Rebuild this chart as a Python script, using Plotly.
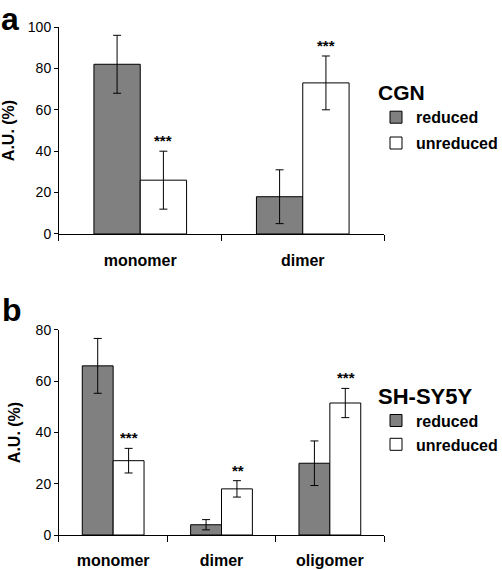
import plotly.graph_objects as go

# ---- data ----
cats_a = ["monomer", "dimer"]
red_a = [82, 18]
red_a_err = [14, 13]
unred_a = [26, 73]
unred_a_err = [14, 13]
sig_a = ["***", "***"]

cats_b = ["monomer", "dimer", "oligomer"]
red_b = [66, 4, 28]
red_b_err = [10.7, 2, 8.7]
unred_b = [29, 18, 51.5]
unred_b_err = [4.8, 3.2, 5.7]
sig_b = ["***", "**", "***"]

FONT = "Liberation Sans, Arial, sans-serif"
GRAY = "#808080"

fig = go.Figure()

def add_bars(cats, red, rerr, unred, uerr, xa, ya, legend, tag):
    fig.add_trace(go.Bar(
        x=cats, y=red, name="reduced", xaxis=xa, yaxis=ya, legend=legend,
        legendgroup=tag + "r",
        marker=dict(color=GRAY, line=dict(color="black", width=1)),
        error_y=dict(type="data", array=rerr, color="black", thickness=1, width=4)))
    fig.add_trace(go.Bar(
        x=cats, y=unred, name="unreduced", xaxis=xa, yaxis=ya, legend=legend,
        legendgroup=tag + "u",
        marker=dict(color="white", line=dict(color="black", width=1)),
        error_y=dict(type="data", array=uerr, color="black", thickness=1, width=4)))

add_bars(cats_a, red_a, red_a_err, unred_a, unred_a_err, "x", "y", "legend", "a")
add_bars(cats_b, red_b, red_b_err, unred_b, unred_b_err, "x2", "y2", "legend2", "b")

xd = [0.1175, 0.765]
axis_common = dict(showline=True, linecolor="black", linewidth=1, showgrid=False,
                   zeroline=False, ticks="outside", tickcolor="black", mirror=False,
                   automargin=False)

fig.update_layout(
    width=502, height=570,
    margin=dict(l=0, r=0, t=0, b=0, autoexpand=False),
    paper_bgcolor="white", plot_bgcolor="white",
    barmode="group", bargap=0.43, bargroupgap=0,
    font=dict(family=FONT, color="black"),
    xaxis=dict(domain=xd, anchor="y", tickson="boundaries", ticklen=6,
               tickfont=dict(size=16, family=FONT, weight="bold"),
               ticklabelstandoff=12, **axis_common),
    yaxis=dict(domain=[0.5895, 0.9526], anchor="x", range=[0, 100], dtick=20,
               ticklen=4, tickfont=dict(size=14), **axis_common,
               title=dict(text="<b>A.U. (%)</b>", font=dict(size=16), standoff=11)),
    xaxis2=dict(domain=xd, anchor="y2", tickson="boundaries", ticklen=6,
                tickfont=dict(size=16, family=FONT, weight="bold"),
                ticklabelstandoff=11, **axis_common),
    yaxis2=dict(domain=[0.0614, 0.4211], anchor="x2", range=[0, 80], dtick=20,
                ticklen=4, tickfont=dict(size=14), **axis_common,
                title=dict(text="<b>A.U. (%)</b>", font=dict(size=16), standoff=11)),
    legend=dict(x=376 / 502, y=1 - 73 / 570, xanchor="left", yanchor="top",
                title=dict(text="<b>CGN</b>", font=dict(size=21)),
                font=dict(size=16, weight="bold"), bgcolor="rgba(0,0,0,0)",
                tracegroupgap=2),
    legend2=dict(x=376 / 502, y=1 - 375 / 570, xanchor="left", yanchor="top",
                 title=dict(text="<b>SH-SY5Y</b>", font=dict(size=22)),
                 font=dict(size=16, weight="bold"), bgcolor="rgba(0,0,0,0)",
                 tracegroupgap=0),
)

annots = []
for c, v, e, s in zip(cats_a, unred_a, unred_a_err, sig_a):
    annots.append(dict(x=c, y=v + e, xref="x", yref="y", text="<b>%s</b>" % s,
                       showarrow=False, xshift=23, yanchor="bottom", yshift=0,
                       font=dict(size=15)))
for c, v, e, s in zip(cats_b, unred_b, unred_b_err, sig_b):
    annots.append(dict(x=c, y=v + e, xref="x2", yref="y2", text="<b>%s</b>" % s,
                       showarrow=False, xshift=16, yanchor="bottom", yshift=0,
                       font=dict(size=15)))
annots.append(dict(x=0, y=1, xref="paper", yref="paper", text="<b>a</b>",
                   showarrow=False, xanchor="left", yanchor="top",
                   borderpad=0, font=dict(size=32)))
annots.append(dict(x=0, y=1 - 290 / 570, xref="paper", yref="paper", text="<b>b</b>",
                   showarrow=False, xanchor="left", yanchor="top", font=dict(size=32)))
fig.update_layout(annotations=annots)

fig.write_html(
    "out.html",
    config={"displayModeBar": False},
    post_script="document.body.style.margin='0';document.body.style.overflow='hidden';"
                "document.documentElement.style.overflow='hidden';",
)
